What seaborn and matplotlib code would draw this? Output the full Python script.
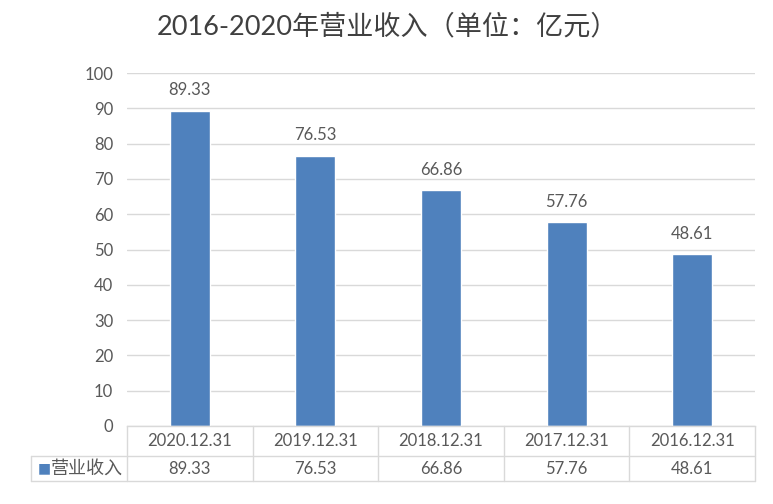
import matplotlib
matplotlib.use("Agg")
import matplotlib.pyplot as plt
import seaborn as sns
import pandas as pd

categories = ["2020.12.31", "2019.12.31", "2018.12.31", "2017.12.31", "2016.12.31"]
values = [89.33, 76.53, 66.86, 57.76, 48.61]
series_name = "营业收入"
title = "2016-2020年营业收入（单位：亿元）"
yticks = [0, 10, 20, 30, 40, 50, 60, 70, 80, 90, 100]

sns.set_theme(style="white")
plt.rcParams['font.family'] = ['Lato', 'Noto Sans CJK SC', 'DejaVu Sans']

TXT = "#595959"
GRID = "#d9d9d9"
BAR = "#4f81bd"

fig = plt.figure(figsize=(7.73, 5.04), dpi=100)
ax = fig.add_axes([127/773, 1-426/504, 628/773, 353/504])

df = pd.DataFrame({"cat": categories, "val": values})
sns.barplot(data=df, x="cat", y="val", color=BAR, width=0.32, saturation=1, ax=ax)

ax.set_ylim(0, 100)
ax.set_xlim(-0.5, len(categories) - 0.5)
ax.set_yticks(yticks)
ax.set_yticklabels([str(t) for t in yticks], color=TXT, fontsize=12)
ax.tick_params(axis='y', length=0, pad=10)
ax.set_xticks([])
ax.set_xlabel("")
ax.set_ylabel("")
ax.yaxis.grid(True, color=GRID, linewidth=1)
ax.set_axisbelow(True)
for s in ["top", "right", "left"]:
    ax.spines[s].set_visible(False)
ax.spines["bottom"].set_color(GRID)
ax.spines["bottom"].set_linewidth(1)

for i, v in enumerate(values):
    ax.text(i, v + 3.5, f"{v:.2f}", ha="center", va="bottom", color=TXT, fontsize=12)

# data table
xa = ax.get_xaxis_transform()
h1 = 30/353
h2 = 25/353
n = len(categories)
left_col = -0.5 - 96/125.6
kw = dict(transform=xa, clip_on=False, color=GRID, linewidth=1)
ax.plot([left_col, n-0.5], [-h1, -h1], **kw)
ax.plot([left_col, n-0.5], [-h1-h2, -h1-h2], **kw)
ax.plot([left_col, left_col], [-h1, -h1-h2], **kw)
for b in range(n+1):
    ax.plot([b-0.5, b-0.5], [0, -h1-h2], **kw)
for i, c in enumerate(categories):
    ax.text(i, -h1/2, c, transform=xa, ha="center", va="center", color=TXT, fontsize=12, clip_on=False)
    ax.text(i, -h1-h2/2, f"{values[i]:.2f}", transform=xa, ha="center", va="center", color=TXT, fontsize=12, clip_on=False)
ax.text(left_col + 0.05, -h1-h2/2, "■", transform=xa, ha="left", va="center", color=BAR, fontsize=10, clip_on=False,
        family=['DejaVu Sans'])
ax.text(left_col + 0.155, -h1-h2/2, series_name, transform=xa, ha="left", va="center", color=TXT, fontsize=13, clip_on=False,
        family=['Noto Sans CJK SC', 'DejaVu Sans'])

fig.text(388/773, 1-27/504, title, ha="center", va="center", color="#404040", fontsize=19.5,
         family=['Lato', 'Noto Sans CJK SC', 'DejaVu Sans'])

fig.savefig("out.png", dpi=100, facecolor="white")
